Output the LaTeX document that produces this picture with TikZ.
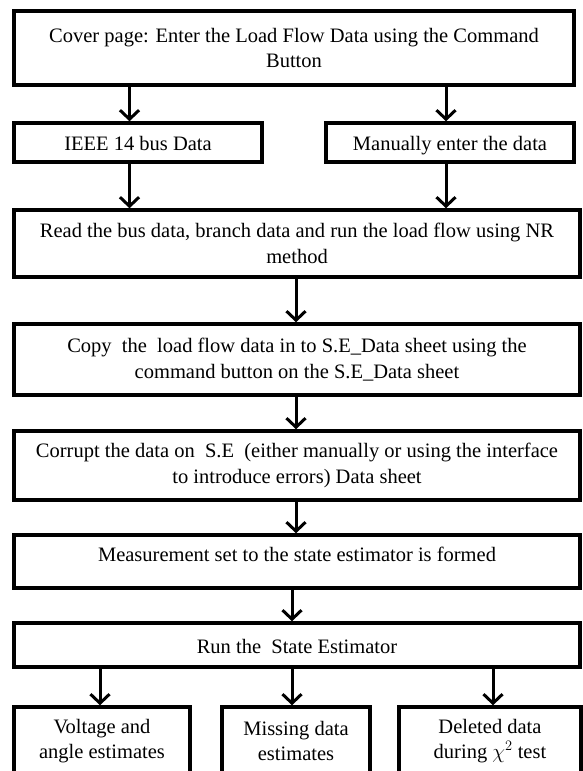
\documentclass[tikz,border=0pt]{standalone}
\usepackage{fontspec}
\setmainfont{Liberation Serif}
\usetikzlibrary{arrows.meta}
\newcommand{\lowtxt}[1]{\raisebox{-3pt}[0.7em][0.2em]{#1}}
\begin{document}
\begin{tikzpicture}[x=1pt,y=-1pt,
  box/.style={draw, line width=3.5pt, rectangle, align=center, inner sep=0pt,
    font=\fontsize{20.5}{25.5}\selectfont},
  txt/.style={align=center, inner sep=0pt, font=\fontsize{20.5}{24.5}\selectfont},
  arr/.style={line width=3pt, -{Straight Barb[length=9pt,width=19pt,line width=3pt]}}]
\useasboundingbox (0,0) rectangle (583,771);
\clip (0,0) rectangle (583,771);
% boxes
\node[box, minimum width=560, minimum height=74] (b1) at (294,48)
  {Cover page: Enter the Load Flow Data using the Command\\Button};
\node[box, minimum width=248, minimum height=39] (b2l) at (138,142.5) {\lowtxt{IEEE 14 bus Data}};
\node[box, minimum width=248, minimum height=39] (b2r) at (450,142.5) {\lowtxt{Manually enter the data}};
\node[box, minimum width=566, minimum height=67] (b3) at (297,243.5)
  {Read the bus data, branch data and run the load flow using NR\\method};
\node[box, minimum width=566, minimum height=71] (b4) at (297,359.5)
  {Copy\ \ the\ \ load flow data in to S.E\_Data sheet using the\\command button on the S.E\_Data sheet};
\node[box, minimum width=566, minimum height=69] (b5) at (297,465.5)
  {Corrupt the data on\ \ S.E\ \ (either manually or using the interface\\to introduce errors) Data sheet};
\node[box, minimum width=566, minimum height=53] (b6) at (297,561.5) {};
\node[txt] (t6) at (297,554) {Measurement set to the state estimator is formed};
\node[box, minimum width=566, minimum height=44] (b7) at (297,645) {\lowtxt{Run the\ \ State Estimator}};
\node[box, minimum width=176, minimum height=93] (b8a) at (102,753.5) {};
\node[box, minimum width=148, minimum height=93] (b8b) at (296,753.5) {};
\node[box, minimum width=182, minimum height=93] (b8c) at (490,753.5) {};
\node[txt] (t8a) at (102,741) {Voltage and\\angle estimates};
\node[txt] (t8b) at (296,741) {Missing data\\estimates};
\node[txt] (t8c) at (490,741) {Deleted data\\during $\chi^{2}$ test};
% arrow columns
\coordinate (cl) at (129.5,0);
\coordinate (cr) at (446,0);
\coordinate (cm) at (296,0);
\coordinate (cm2) at (292,0);
\coordinate (c8a) at (100,0);
\coordinate (c8c) at (493,0);
% connectors
\draw[arr] (b1.south -| cl) -- (b2l.north -| cl);
\draw[arr] (b1.south -| cr) -- (b2r.north -| cr);
\draw[arr] (b2l.south -| cl) -- (b3.north -| cl);
\draw[arr] (b2r.south -| cr) -- (b3.north -| cr);
\draw[arr] (b3.south -| cm) -- (b4.north -| cm);
\draw[arr] (b4.south -| cm) -- (b5.north -| cm);
\draw[arr] (b5.south -| cm) -- (b6.north -| cm);
\draw[arr] (b6.south -| cm2) -- (b7.north -| cm2);
\draw[arr] (b7.south -| c8a) -- (b8a.north -| c8a);
\draw[arr] (b7.south -| cm2) -- (b8b.north -| cm2);
\draw[arr] (b7.south -| c8c) -- (b8c.north -| c8c);
\end{tikzpicture}
\end{document}
